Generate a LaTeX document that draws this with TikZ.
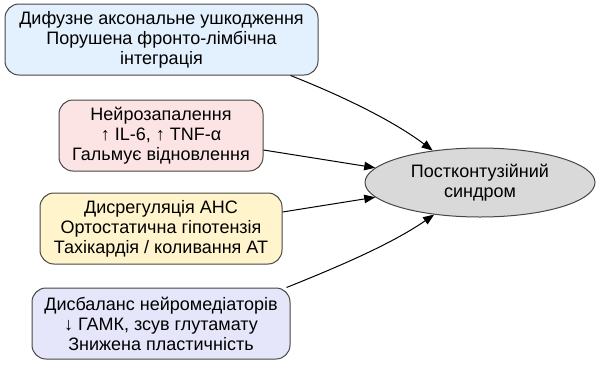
\documentclass[tikz,border=0pt]{standalone}
\usepackage{fontspec}
\setmainfont{Liberation Sans}
\usepackage{xcolor}
\usetikzlibrary{shapes.geometric,arrows.meta}

\definecolor{dauFill}{RGB}{227,240,253}
\definecolor{inflFill}{RGB}{253,228,228}
\definecolor{ansFill}{RGB}{255,244,204}
\definecolor{nmFill}{RGB}{230,230,250}
\definecolor{pcsFill}{RGB}{217,217,217}
\definecolor{edge}{RGB}{70,70,70}

\begin{document}
\begin{tikzpicture}[x=1pt,y=-1pt,
    cause/.style={draw=edge,line width=1pt,rounded corners=14pt,align=center,inner sep=0pt,
      minimum height=71pt,font=\fontsize{18}{20}\selectfont},
    outcome/.style={draw=edge,line width=1pt,ellipse,fill=pcsFill,align=center,inner sep=0pt,
      minimum width=230pt,minimum height=69pt,font=\fontsize{18}{20}\selectfont},
    link/.style={draw=black,line width=1pt,-{Triangle[length=11pt,width=8.5pt]}}]
      \useasboundingbox (0,0) rectangle (601,365);
      \node[cause,fill=dauFill,minimum width=313pt] (dau) at (161.5,39.5)
        {Дифузне аксональне ушкодження\\Порушена фронто-лімбічна\\інтеграція};
      \node[cause,fill=inflFill,minimum width=204pt] (infl) at (161,135.5)
        {Нейрозапалення\\↑ IL-6, ↑ TNF-α\\Гальмує відновлення};
      \node[cause,fill=ansFill,minimum width=242pt] (ans) at (161,228.5)
        {Дисрегуляція АНС\\Ортостатична гіпотензія\\Тахікардія / коливання АТ};
      \node[cause,fill=nmFill,minimum width=258pt] (nm) at (161,323.5)
        {Дисбаланс нейромедіаторів\\↓ ГАМК, зсув глутамату\\Знижена пластичність};
      \node[outcome] (pcs) at (480,182.5) {Постконтузійний\\синдром};
      \draw[link] ([xshift=-28pt]dau.south east)
        .. controls (345,97) and (395,122) .. (pcs.146);
      \draw[link] ([yshift=-14.5pt]infl.east) -- (pcs.172);
      \draw[link] ([yshift=16.5pt]ans.east) -- (pcs.188);
      \draw[link] ([xshift=-4pt]nm.north east)
        .. controls (335,268) and (390,245) .. (pcs.215);
    \end{tikzpicture}
\end{document}
